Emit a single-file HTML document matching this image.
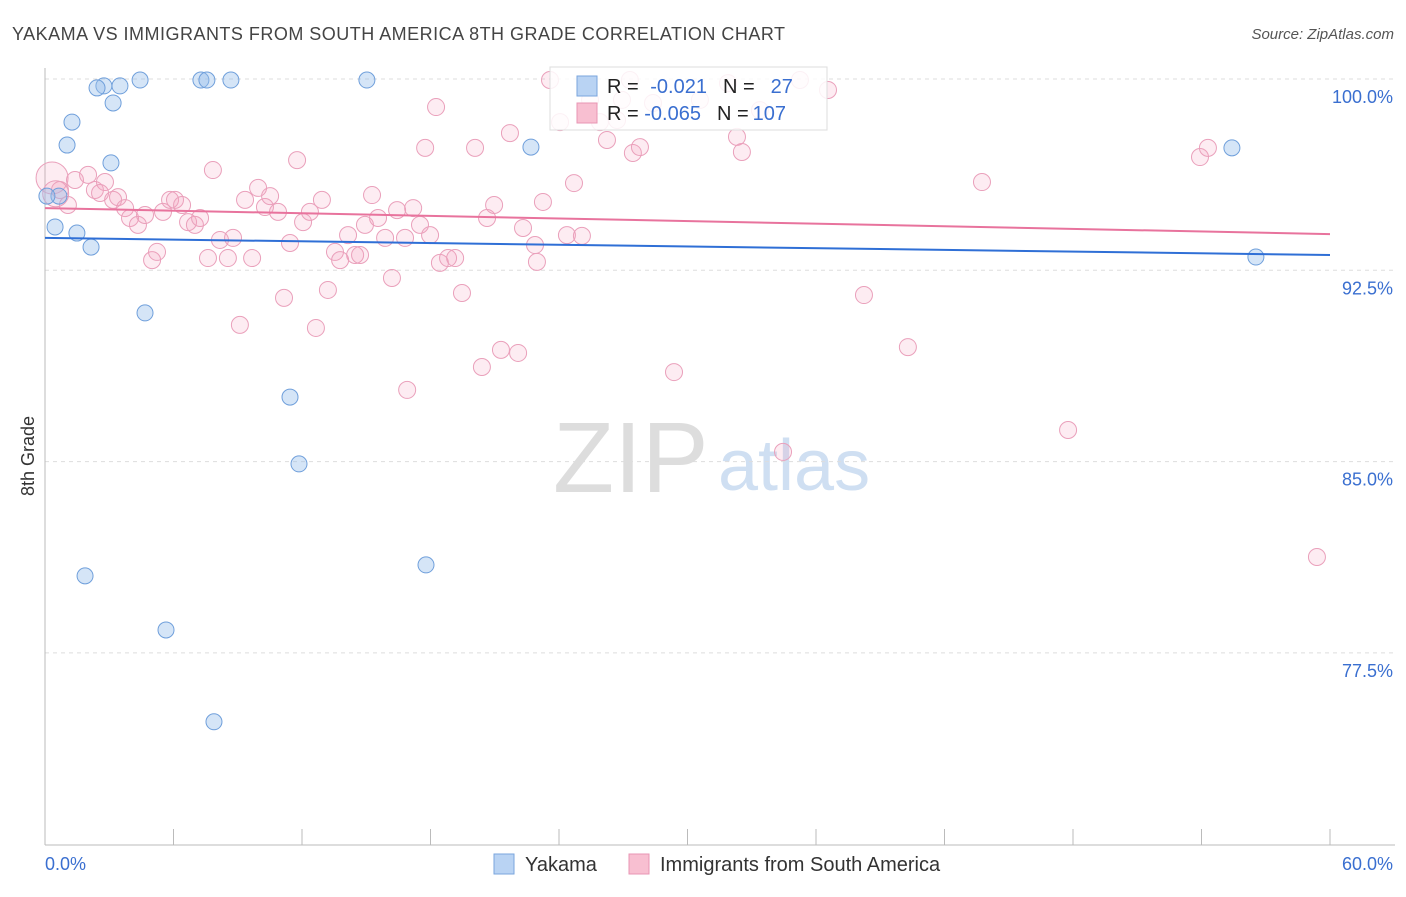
<!DOCTYPE html>
<html><head><meta charset="utf-8"><style>
body{margin:0;background:#fff;font-family:"Liberation Sans",sans-serif}
svg text{font-family:"Liberation Sans",sans-serif}
</style></head><body>
<svg id="chart" width="1406" height="892">
<text x="12" y="40" font-size="18" fill="#444" textLength="773">YAKAMA VS IMMIGRANTS FROM SOUTH AMERICA 8TH GRADE CORRELATION CHART</text>
<text x="1394" y="39" font-size="15" fill="#555" text-anchor="end" font-style="italic">Source: ZipAtlas.com</text>
<text x="553" y="492" font-size="100" fill="#ddd" font-family="Liberation Serif">ZIP</text>
<text x="718" y="490" font-size="72" fill="#cfdff2">atlas</text>
<text x="34" y="456" font-size="18" fill="#333" transform="rotate(-90 34 456)" text-anchor="middle">8th Grade</text>
<g id="grid"></g><g id="axes"></g><g id="pts"></g><g id="trend"></g>
<g>
<rect x="550" y="67" width="277" height="63" fill="#fff" fill-opacity="0.85" stroke="#ddd"/>
<rect x="577" y="76" width="20" height="20" fill="#b9d3f3" stroke="#7aa6de"/>
<rect x="577" y="103" width="20" height="20" fill="#f8bfd1" stroke="#e896b4"/>
<text x="607" y="93" font-size="20" fill="#222">R = <tspan fill="#3a6fd0" dx="6">-0.021</tspan><tspan dx="16" fill="#222">N =</tspan><tspan dx="16" fill="#3a6fd0">27</tspan></text>
<text x="607" y="120" font-size="20" fill="#222">R = <tspan fill="#3a6fd0">-0.065</tspan><tspan dx="16" fill="#222">N =</tspan><tspan dx="4" fill="#3a6fd0">107</tspan></text>
</g>
<g>
<rect x="494" y="854" width="20" height="20" fill="#b9d3f3" stroke="#7aa6de"/>
<text x="525" y="871" font-size="20" fill="#333">Yakama</text>
<rect x="629" y="854" width="20" height="20" fill="#f8bfd1" stroke="#e896b4"/>
<text x="660" y="871" font-size="20" fill="#333">Immigrants from South America</text>
</g>
</svg>
<script>
const yTicks=[100,92.5,85,77.5];
const yTickLabels=["100.0%","92.5%","85.0%","77.5%"];
const xTickVals=[0,6,12,18,24,30,36,42,48,54,60];
const blueX=[2.75,2.43,3.50,4.44,7.28,7.56,8.68,15.03,3.18,1.26,1.03,3.08,22.69,55.42,0.65,0.47,1.49,2.15,56.54,4.67,11.44,11.86,17.79,1.87,5.65,7.89,0.09];
const blueY=[99.73,99.65,99.73,99.96,99.96,99.96,99.96,99.96,99.06,98.31,97.41,96.71,97.33,97.30,95.41,94.20,93.96,93.41,93.02,90.83,87.53,84.91,80.95,80.52,78.40,74.80,95.41];
const pinkX=[0.33,0.70,1.07,1.40,2.01,2.33,2.80,2.57,3.18,3.41,3.74,3.97,4.34,4.67,5.00,5.23,5.51,5.84,6.07,6.40,6.68,7.00,7.24,7.61,7.84,8.17,8.54,8.78,9.10,9.34,9.67,9.95,10.27,10.51,10.88,11.16,11.44,11.77,12.05,12.37,12.65,12.93,13.21,13.54,13.78,14.15,14.48,14.71,14.94,15.27,15.55,15.88,16.20,16.44,16.81,16.91,17.19,17.51,17.75,17.98,18.26,18.44,18.82,19.15,19.47,20.08,20.40,20.64,20.97,21.29,21.71,22.09,22.32,22.88,22.97,23.25,23.58,24.05,24.37,24.70,25.07,25.45,25.91,26.24,26.71,26.94,27.31,27.45,27.78,28.39,29.37,30.58,31.89,32.31,32.54,33.38,34.46,35.25,36.56,38.24,40.29,43.75,47.77,53.93,54.30,59.39,0.5];
const pinkY=[96.12,95.65,95.06,96.04,96.24,95.65,95.96,95.53,95.26,95.37,94.94,94.55,94.28,94.67,92.90,93.22,94.79,95.26,95.26,95.06,94.39,94.28,94.55,92.98,96.43,93.69,92.98,93.77,90.36,95.26,92.98,95.73,94.98,95.41,94.79,91.42,93.57,96.82,94.39,94.79,90.24,95.26,91.73,93.22,92.90,93.88,93.10,93.10,94.28,95.45,94.55,93.77,92.20,94.86,93.77,87.81,94.94,94.28,97.30,93.88,98.90,92.79,92.98,92.98,91.61,97.30,88.71,94.55,95.06,89.38,97.88,89.26,94.16,93.49,92.83,95.18,99.96,98.31,93.88,95.92,93.85,99.18,98.31,97.61,98.39,99.18,99.96,97.10,97.33,99.06,88.51,99.18,99.84,97.73,97.14,98.78,85.38,99.96,99.57,91.53,89.49,95.96,86.24,96.94,97.30,81.26,95.5];
const blueTrend=[93.77,93.10];
const pinkTrend=[94.94,93.92];
const NS="http://www.w3.org/2000/svg";
const X0=45,X1=1330,Y100=79,PX_PER=191.3/7.5;
const sx=v=>X0+(X1-X0)*v/60;
const sy=v=>Y100+(100-v)*PX_PER;
function mk(tag,attrs,parent){const e=document.createElementNS(NS,tag);for(const k in attrs)e.setAttribute(k,attrs[k]);parent.appendChild(e);return e;}
const grid=document.getElementById('grid'),axes=document.getElementById('axes'),pts=document.getElementById('pts'),trend=document.getElementById('trend');
yTicks.forEach((t,i)=>{
 const l=mk('line',{x1:X0,x2:1395,y1:sy(t),y2:sy(t),stroke:'#ddd','stroke-dasharray':'4 4'},grid);
 
 
 const tx=mk('text',{x:1393,y:sy(t)+24,'font-size':18,fill:'#3a6fd0','text-anchor':'end'},axes);
 tx.textContent=yTickLabels[i];
 
 
});
const ax=mk('line',{x1:X0,x2:1395,y1:845,y2:845,stroke:'#bbb'},axes);


const ay=mk('line',{x1:X0,x2:X0,y1:68,y2:845,stroke:'#bbb'},axes);


xTickVals.forEach(v=>{
 const t=mk('line',{x1:sx(v),x2:sx(v),y1:829,y2:845,stroke:'#bbb'},axes);
 
 
});
const xl0=mk('text',{x:45,y:870,'font-size':18,fill:'#3a6fd0'},axes);xl0.textContent='0.0%';


const xl1=mk('text',{x:1393,y:870,'font-size':18,fill:'#3a6fd0','text-anchor':'end'},axes);xl1.textContent='60.0%';


pinkX.forEach((v,i)=>{
 const r=(i===0||i===pinkX.length-1)?(i===0?16:13):8.5;
 const c=mk('circle',{cx:sx(v),cy:sy(pinkY[i]),r:r,fill:'rgba(244,160,190,0.2)',stroke:'#eaa0bb','stroke-width':1},pts);
 
 
});
blueX.forEach((v,i)=>{
 const c=mk('circle',{cx:sx(v),cy:sy(blueY[i]),r:8,fill:'rgba(150,190,235,0.4)',stroke:'#6f9fdb','stroke-width':1},pts);
 
 
});
const tb=mk('line',{x1:sx(0),x2:sx(60),y1:sy(blueTrend[0]),y2:sy(blueTrend[1]),stroke:'#2f6fd6','stroke-width':2},trend);


const tp=mk('line',{x1:sx(0),x2:sx(60),y1:sy(pinkTrend[0]),y2:sy(pinkTrend[1]),stroke:'#e8739d','stroke-width':2},trend);


</script>
</body></html>
